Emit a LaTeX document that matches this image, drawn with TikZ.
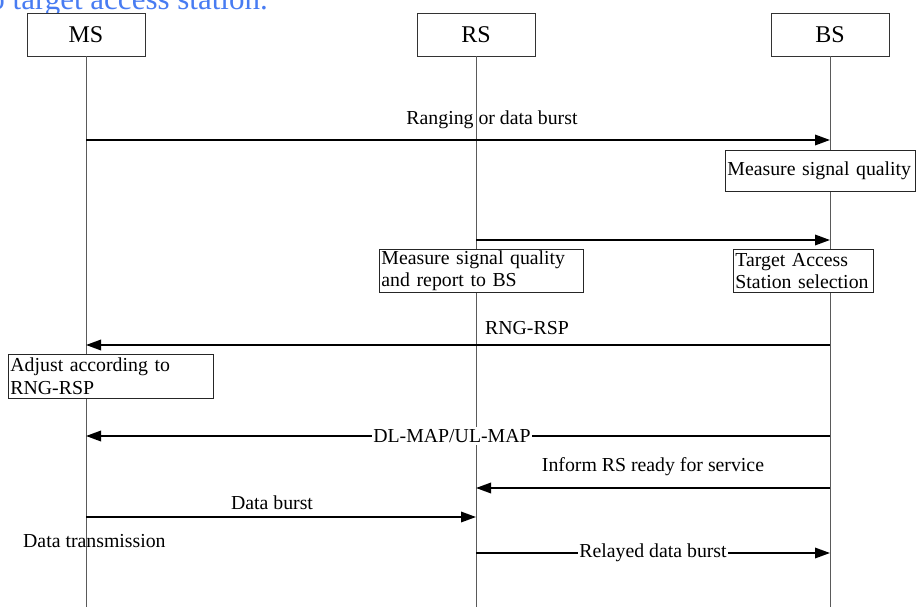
\documentclass[tikz,border=0pt]{standalone}
\usepackage{fontspec}
\setmainfont{Liberation Serif}
\usetikzlibrary{arrows.meta}
\definecolor{titleblue}{RGB}{72,124,242}
\definecolor{lifegray}{RGB}{90,90,90}
\begin{document}
\begin{tikzpicture}[x=1pt,y=-1pt,
  txt/.style={font=\fontsize{19.8}{22.5}\selectfont, inner sep=0pt},
  headbox/.style={draw=black!80, line width=0.9pt, fill=white, minimum width=118pt, minimum height=43pt, font=\fontsize{24}{26}\selectfont, inner sep=0pt},
  notebox/.style={draw=black!85, line width=0.9pt, fill=white, align=left, anchor=north west, inner xsep=2pt, inner ysep=0pt, font=\fontsize{19.8}{22.5}\selectfont},
  lifeline/.style={draw=lifegray, line width=0.9pt},
  msg/.style={draw=black, line width=1.8pt, -{Triangle[length=15pt,width=10.5pt]}},
  onlabel/.style={txt, fill=white, inner xsep=1pt, inner ysep=2pt},
]
\useasboundingbox (0,0) rectangle (916,607);
\clip (0,0) rectangle (916,607);

% partial title
\node[font=\fontsize{31}{32}\selectfont, text=titleblue, anchor=base east, inner sep=0pt] (title) at (268,10) {to target access station.};

% headers
\node[headbox] (MS) at (86,34.5) {MS};
\node[headbox] (RS) at (476,34.5) {RS};
\node[headbox] (BS) at (830,34.5) {BS};

% lifeline ends
\coordinate (MSend) at (86,607);
\coordinate (RSend) at (476,607);
\coordinate (BSend) at (830,607);
\draw[lifeline] (MS.south) -- (MSend);
\draw[lifeline] (RS.south) -- (RSend);
\draw[lifeline] (BS.south) -- (BSend);

% action boxes
\node[notebox, text width=186pt, minimum height=41pt] (bsq) at (725,150) {Measure signal quality};
\node[notebox, text width=200pt, minimum height=43pt] (rsq) at (379,249) {Measure signal quality\\and report to BS};
\node[notebox, text width=136pt, minimum height=43pt] (tas) at (733,249) {Target Access\\Station selection};
\node[notebox, text width=201pt, minimum height=44pt] (adj) at (8,354) {Adjust according to\\RNG-RSP};

% message end points
\coordinate (m1a) at (86,140);  \coordinate (m1b) at (830,140);
\coordinate (m2a) at (476,240); \coordinate (m2b) at (830,240);
\coordinate (m3a) at (830,345); \coordinate (m3b) at (86,345);
\coordinate (m4a) at (830,436); \coordinate (m4b) at (86,436);
\coordinate (m5a) at (830,488); \coordinate (m5b) at (476,488);
\coordinate (m6a) at (86,517);  \coordinate (m6b) at (476,517);
\coordinate (m7a) at (476,553); \coordinate (m7b) at (830,553);

\draw[msg] (m1a) -- (m1b);
\draw[msg] (m2a) -- (m2b);
\draw[msg] (m3a) -- (m3b);
\draw[msg] (m4a) -- (m4b);
\draw[msg] (m5a) -- (m5b);
\draw[msg] (m6a) -- (m6b);
\draw[msg] (m7a) -- (m7b);

% labels
\node[txt] (l1) at (492,120) {Ranging or data burst};
\node[txt] (l3) at (527,328) {RNG-RSP};
\node[onlabel] (l4) at (452,436) {DL-MAP/UL-MAP};
\node[txt] (l5) at (653,467) {Inform RS ready for service};
\node[txt] (l6) at (272,503) {Data burst};
\node[txt, anchor=west] (l7) at (23,541) {Data transmission};
\node[onlabel] (l8) at (653,553) {Relayed data burst};
\end{tikzpicture}
\end{document}
